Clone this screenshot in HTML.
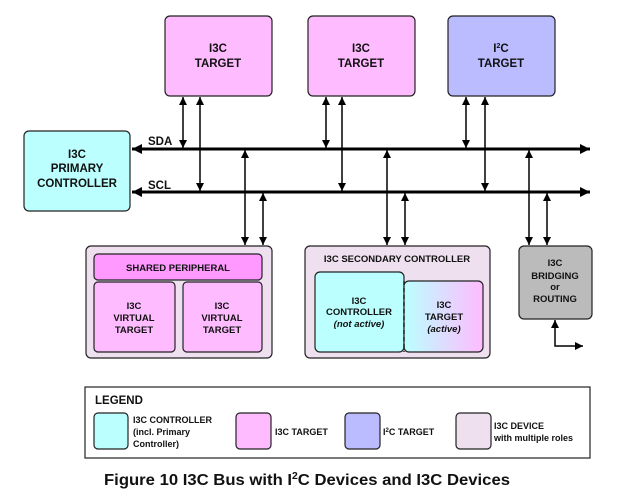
<!DOCTYPE html>
<html><head><meta charset="utf-8"><style>
html,body{margin:0;padding:0;background:#fff;width:617px;height:499px;overflow:hidden}
svg{display:block}
text{font-family:"Liberation Sans",Arial,sans-serif;font-weight:bold;fill:#111}
</style></head><body>
<svg width="617" height="499" viewBox="0 0 617 499" xmlns="http://www.w3.org/2000/svg">
<defs>
<marker id="a" viewBox="0 0 10 10" refX="10" refY="5" markerWidth="8" markerHeight="10" orient="auto-start-reverse" markerUnits="userSpaceOnUse"><path d="M0,0 L10,5 L0,10 z" fill="#000"/></marker>
<marker id="b" viewBox="0 0 10 10" refX="10" refY="5" markerWidth="12" markerHeight="10" orient="auto-start-reverse" markerUnits="userSpaceOnUse"><path d="M0,0 L10,5 L0,10 z" fill="#000"/></marker>
<linearGradient id="g" x1="0" x2="1" y1="0" y2="0"><stop offset="0" stop-color="#bbffff"/><stop offset="1" stop-color="#ffbbff"/></linearGradient>
</defs>
<g stroke="#222" stroke-width="1.2">
<rect x="165" y="16" width="107" height="80" rx="5" fill="#ffbbff"/>
<rect x="308" y="16" width="107" height="80" rx="5" fill="#ffbbff"/>
<rect x="448" y="16" width="107" height="80" rx="5" fill="#bbbbff"/>
<rect x="24" y="131" width="106" height="80" rx="5" fill="#bbffff"/>
<rect x="86" y="246" width="186" height="112" rx="5" fill="#eee0ee"/>
<rect x="94" y="254" width="168" height="26" rx="4" fill="#ff99ff"/>
<rect x="94" y="282" width="81" height="70" rx="4" fill="#ffbbff"/>
<rect x="183" y="282" width="79" height="70" rx="4" fill="#ffbbff"/>
<rect x="305" y="246" width="185" height="112" rx="5" fill="#eee0ee"/>
<rect x="315" y="272" width="89" height="80" rx="5" fill="#bbffff"/>
<rect x="404" y="281" width="79" height="71" rx="5" fill="url(#g)"/>
<rect x="519" y="246" width="73" height="73" rx="5" fill="#bbbbbb"/>
</g>
<line x1="404" y1="281" x2="404" y2="352" stroke="#222" stroke-width="1.5" stroke-dasharray="4,3"/>
<g stroke="#000" stroke-width="3">
<line x1="132" y1="149" x2="590" y2="149" marker-start="url(#b)" marker-end="url(#b)"/>
<line x1="132" y1="192" x2="590" y2="192" marker-start="url(#b)" marker-end="url(#b)"/>
</g>
<g stroke="#000" stroke-width="1.5" fill="none">
<line x1="183" y1="97" x2="183" y2="148" marker-start="url(#a)" marker-end="url(#a)"/>
<line x1="200" y1="97" x2="200" y2="191" marker-start="url(#a)" marker-end="url(#a)"/>
<line x1="326" y1="97" x2="326" y2="148" marker-start="url(#a)" marker-end="url(#a)"/>
<line x1="342" y1="97" x2="342" y2="191" marker-start="url(#a)" marker-end="url(#a)"/>
<line x1="466" y1="97" x2="466" y2="148" marker-start="url(#a)" marker-end="url(#a)"/>
<line x1="485" y1="97" x2="485" y2="191" marker-start="url(#a)" marker-end="url(#a)"/>
<line x1="245" y1="150" x2="245" y2="245" marker-start="url(#a)" marker-end="url(#a)"/>
<line x1="263" y1="193" x2="263" y2="245" marker-start="url(#a)" marker-end="url(#a)"/>
<line x1="387" y1="150" x2="387" y2="245" marker-start="url(#a)" marker-end="url(#a)"/>
<line x1="405" y1="193" x2="405" y2="245" marker-start="url(#a)" marker-end="url(#a)"/>
<line x1="529" y1="150" x2="529" y2="245" marker-start="url(#a)" marker-end="url(#a)"/>
<line x1="547" y1="193" x2="547" y2="245" marker-start="url(#a)" marker-end="url(#a)"/>
<polyline points="555,320 555,346 583,346" marker-start="url(#a)" marker-end="url(#a)"/>
</g>
<g font-size="11.5" text-anchor="middle">
<text x="218" y="52">I3C</text><text x="218" y="67">TARGET</text>
<text x="361" y="52">I3C</text><text x="361" y="67">TARGET</text>
<text x="501" y="52">I<tspan font-size="7" dy="-4">2</tspan><tspan dy="4">C</tspan></text><text x="501" y="67">TARGET</text>
<text x="77" y="158">I3C</text><text x="77" y="172">PRIMARY</text><text x="77" y="187">CONTROLLER</text>
<text x="148" y="145" text-anchor="start">SDA</text>
<text x="148" y="189" text-anchor="start">SCL</text>
</g>
<g font-size="9.5" text-anchor="middle">
<text x="178" y="271">SHARED PERIPHERAL</text>
<text x="134" y="309">I3C</text><text x="134" y="321">VIRTUAL</text><text x="134" y="333">TARGET</text>
<text x="222" y="309">I3C</text><text x="222" y="321">VIRTUAL</text><text x="222" y="333">TARGET</text>
<text x="397" y="262">I3C SECONDARY CONTROLLER</text>
<text x="359" y="304">I3C</text><text x="359" y="315">CONTROLLER</text>
<text x="359" y="327" font-style="italic" font-weight="normal">(not active)</text>
<text x="444" y="308">I3C</text><text x="444" y="320">TARGET</text>
<text x="444" y="332" font-style="italic" font-weight="normal">(active)</text>
<text x="555" y="266">I3C</text><text x="555" y="279">BRIDGING</text><text x="555" y="290">or</text><text x="555" y="302">ROUTING</text>
</g>
<rect x="85" y="387" width="505" height="71" fill="#fff" stroke="#222" stroke-width="1.2"/>
<text x="95" y="404" font-size="11.5">LEGEND</text>
<g stroke="#222" stroke-width="1.2">
<rect x="94" y="413" width="34" height="36" rx="4" fill="#bbffff"/>
<rect x="236" y="413" width="35" height="36" rx="4" fill="#ffbbff"/>
<rect x="345" y="413" width="35" height="36" rx="4" fill="#bbbbff"/>
<rect x="456" y="413" width="35" height="36" rx="4" fill="#eee0ee"/>
</g>
<g font-size="9">
<text x="133" y="423">I3C CONTROLLER</text>
<text x="133" y="435">(incl. Primary</text>
<text x="133" y="447">Controller)</text>
<text x="275" y="435">I3C TARGET</text>
<text x="383" y="435">I<tspan font-size="6" dy="-3">2</tspan><tspan dy="3">C TARGET</tspan></text>
<text x="494" y="429">I3C DEVICE</text>
<text x="494" y="441">with multiple roles</text>
</g>
<text x="104" y="485" font-size="16" textLength="406" lengthAdjust="spacingAndGlyphs">Figure 10 I3C Bus with I<tspan font-size="10" dy="-6">2</tspan><tspan dy="6">C Devices and I3C Devices</tspan></text>
</svg>
</body></html>
